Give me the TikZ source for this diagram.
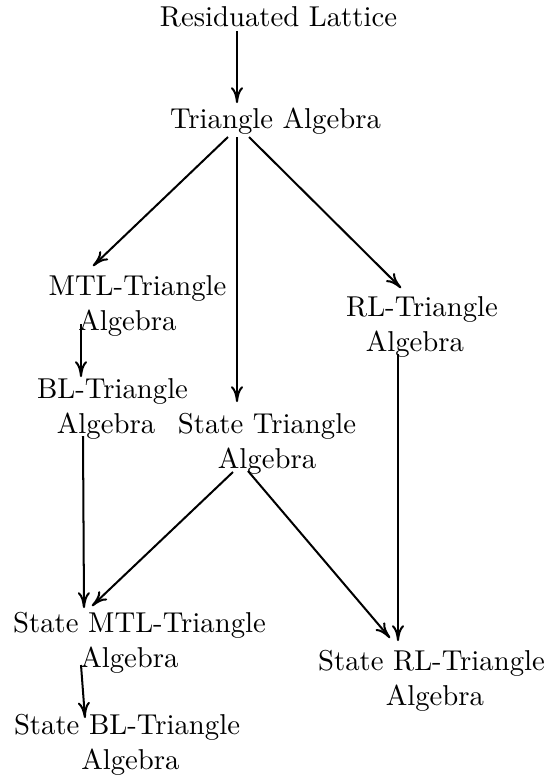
\documentclass[tikz,border=0pt]{standalone}
\usetikzlibrary{arrows.meta}
\begin{document}
\begin{tikzpicture}[x=0.348pt,y=-0.348pt,
  lbl/.style={align=center,inner sep=0pt},
  arr/.style={-{Computer Modern Rightarrow[length=5.5pt,width=4.2pt]},line width=0.7pt}]
\useasboundingbox (0,0) rectangle (547,778);
\node[lbl] (res) at (278.5,17) {Residuated Lattice};
\node[lbl] (ta) at (275.5,121) {Triangle Algebra};
\node[lbl] (mtl) at (137.5,306) {MTL-Triangle\\\hspace*{-7pt}Algebra};
\node[lbl] (rlt) at (422,327) {RL-Triangle\\\hspace*{-4.9pt}Algebra};
\node[lbl] (bl) at (112.5,409) {BL-Triangle\\\hspace*{-4.5pt}Algebra};
\node[lbl] (st) at (267,444) {State Triangle\\Algebra};
\node[lbl] (smtl) at (139.5,643) {State MTL-Triangle\\\hspace*{-7pt}Algebra};
\node[lbl] (srl) at (431.5,681) {State RL-Triangle\\\hspace*{2.4pt}Algebra};
\node[lbl] (sbl) at (127,745) {State BL-Triangle\\\hspace*{2.4pt}Algebra};
\draw[arr] ([shift={(-41.5,14)}]res.center) -- ([shift={(-38.5,-18)}]ta.center);
\draw[arr] ([shift={(-47.5,16)}]ta.center) -- ([shift={(-44.5,-40)}]mtl.center);
\draw[arr] ([shift={(-38.5,16)}]ta.center) -- ([shift={(-30,-42)}]st.center);
\draw[arr] ([shift={(-26.5,16)}]ta.center) -- ([shift={(-21,-39)}]rlt.center);
\draw[arr] ([shift={(-56.5,18)}]mtl.center) -- ([shift={(-31.5,-32)}]bl.center);
\draw[arr] ([shift={(-24,27)}]rlt.center) -- ([shift={(-33.5,-40)}]srl.center);
\draw[arr] ([shift={(-29.5,27)}]bl.center) -- ([shift={(-55.5,-35)}]smtl.center);
\draw[arr] ([shift={(-34,28)}]st.center) -- ([shift={(-47.5,-37)}]smtl.center);
\draw[arr] ([shift={(-19,27)}]st.center) -- ([shift={(-41.5,-43)}]srl.center);
\draw[arr] ([shift={(-58.5,22)}]smtl.center) -- ([shift={(-42,-27)}]sbl.center);
\end{tikzpicture}
\end{document}
